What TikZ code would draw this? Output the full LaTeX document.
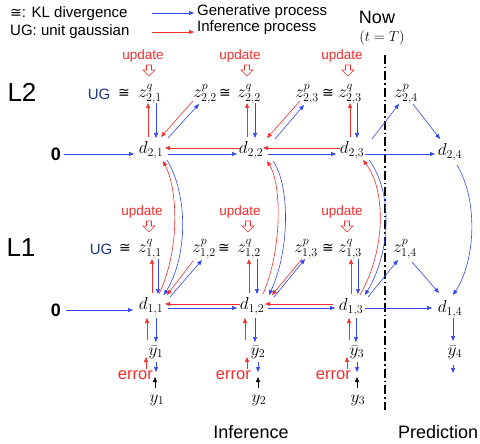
\documentclass[tikz,border=0pt]{standalone}
\usepackage{fontspec}
\setmainfont{Liberation Sans}
\newfontfamily\dvfont{DejaVu Sans}
\usetikzlibrary{arrows.meta,calc}
\definecolor{bl}{RGB}{50,70,245}
\definecolor{rd}{RGB}{245,45,45}
\definecolor{navy}{RGB}{30,55,125}
\tikzset{
  hollow/.pic={\draw[rd, line width=0.6pt, fill=white] (-2.5,0) -- (2.5,0) -- (2.5,5) -- (6,5) -- (0,11) -- (-6,5) -- (-2.5,5) -- cycle;},
  ba/.style={draw=bl, line width=0.6pt, -{Triangle[length=5pt,width=4pt]}},
  ra/.style={draw=rd, line width=0.6pt, -{Triangle[length=5pt,width=4pt]}},
  ka/.style={draw=black, line width=0.6pt, -{Triangle[length=5pt,width=4pt]}},
  mth/.style={inner sep=0pt, font=\fontsize{18}{21}\selectfont},
  lbl/.style={inner sep=0pt, font=\fontsize{15}{18}\selectfont},
  upd/.style={inner sep=0pt, text=rd, font=\fontsize{13.5}{16}\selectfont},
  err/.style={inner sep=0pt, text=rd, font=\fontsize{16.5}{19}\selectfont, anchor=east},
  big/.style={inner sep=0pt, font=\fontsize{26}{30}\selectfont},
  zero/.style={inner sep=0pt, font=\bfseries\fontsize{18}{20}\selectfont},
  cg/.style={inner sep=0pt, font=\fontsize{15}{18}\selectfont},
  cgs/.style={inner sep=0pt, font=\dvfont\fontsize{14}{16}\selectfont},
  dashdot/.style={line width=1.8pt, dash pattern=on 9pt off 3pt on 1.5pt off 3pt}
}
\begin{document}
\begin{tikzpicture}[x=1pt,y=-1pt]
\useasboundingbox (0,0) rectangle (480,444);
% legend
\node[lbl, anchor=west] (kl) at (10,14) {{\dvfont\fontsize{14}{16}\selectfont ≅}: KL divergence};
\node[lbl, anchor=west] (ugl) at (10,32) {UG: unit gaussian};
\node[lbl, anchor=west] (gen) at (197,12) {Generative process};
\node[lbl, anchor=west] (inf) at (197,28) {Inference process};
\coordinate (g0) at (152,13);
\coordinate (r0) at (152,32);
\draw[ba] (g0) -- ($(gen.west)+(-3,1)$);
\draw[ra] (r0) -- ($(inf.west)+(-3,4)$);
\node[inner sep=0pt, font=\fontsize{18}{22}\selectfont] (now) at (377,17) {Now};
\node[inner sep=0pt, font=\fontsize{14}{16}\selectfont] (tT) at (382,38) {$(t=T)$};
\coordinate (vt) at (385,55);
\coordinate (vb) at (385,410);
\draw[dashdot] (vt) -- (vb);
% layer labels
\node[big] (L2) at (22,92) {L2};
\node[big] (L1) at (21,248) {L1};
\node[zero] (z2) at (56,154) {0};
\node[zero] (z1) at (56,310) {0};
% L2 top
\node[cg, text=navy] (ug2) at (99,94) {UG};
\node[cgs] (c21) at (124,93) {≅};
\node[mth] (zq21) at (150,94) {$z^{q}_{2,1}$};
\node[mth] (zp22) at (205,94) {$z^{p}_{2,2}$};
\node[cgs] (c22) at (225,93) {≅};
\node[mth] (zq22) at (249,94) {$z^{q}_{2,2}$};
\node[mth] (zp23) at (307,94) {$z^{p}_{2,3}$};
\node[cgs] (c23) at (328,93) {≅};
\node[mth] (zq23) at (350,94) {$z^{q}_{2,3}$};
\node[mth] (zp24) at (406,94) {$z^{p}_{2,4}$};
\node[upd] (u21) at (143,56) {update};
\node[upd] (u22) at (240,56) {update};
\node[upd] (u23) at (342,56) {update};
\pic at (149,65) {hollow};
\pic at (247,65) {hollow};
\pic at (348,65) {hollow};
\node[mth] (d21) at (151,150) {$d_{2,1}$};
\node[mth] (d22) at (251,150) {$d_{2,2}$};
\node[mth] (d23) at (352,150) {$d_{2,3}$};
\node[mth] (d24) at (450,152) {$d_{2,4}$};
% L1
\node[cg, text=navy] (ug1) at (101,249) {UG};
\node[cgs] (c11) at (125,248) {≅};
\node[mth] (zq11) at (150,249) {$z^{q}_{1,1}$};
\node[mth] (zp12) at (204,249) {$z^{p}_{1,2}$};
\node[cgs] (c12) at (224,248) {≅};
\node[mth] (zq12) at (249,249) {$z^{q}_{1,2}$};
\node[mth] (zp13) at (306,249) {$z^{p}_{1,3}$};
\node[cgs] (c13) at (328,248) {≅};
\node[mth] (zq13) at (350,249) {$z^{q}_{1,3}$};
\node[mth] (zp14) at (405,249) {$z^{p}_{1,4}$};
\node[upd] (u11) at (142,212) {update};
\node[upd] (u12) at (240,212) {update};
\node[upd] (u13) at (342,212) {update};
\pic at (149,221) {hollow};
\pic at (248,221) {hollow};
\pic at (347,221) {hollow};
\node[mth] (d11) at (151,306) {$d_{1,1}$};
\node[mth] (d12) at (252,306) {$d_{1,2}$};
\node[mth] (d13) at (351,307) {$d_{1,3}$};
\node[mth] (d14) at (450,309) {$d_{1,4}$};
% outputs
\node[mth] (yb1) at (156,352) {$\bar{y}_1$};
\node[mth] (yb2) at (258,352) {$\bar{y}_2$};
\node[mth] (yb3) at (357,352) {$\bar{y}_3$};
\node[mth] (yb4) at (455,352) {$\bar{y}_4$};
\node[err] (e1) at (153,375) {error};
\node[err] (e2) at (251,375) {error};
\node[err] (e3) at (351,375) {error};
\node[mth] (y1) at (157,400) {$y_1$};
\node[mth] (y2) at (259,400) {$y_2$};
\node[mth] (y3) at (358,400) {$y_3$};
\node[inner sep=0pt, font=\fontsize{18}{22}\selectfont] (infr) at (251,432) {Inference};
\node[inner sep=0pt, anchor=west, font=\fontsize{18}{22}\selectfont] (pred) at (398,432) {Prediction};
% L2 verticals
\draw[ra] ($(d21)+(-3,-13)$) -- ($(zq21)+(-2,9)$);
\draw[ba] ($(zq21)+(6,9)$) -- ($(d21)+(5,-12)$);
\draw[ra] ($(d22)+(-4,-13)$) -- ($(zq22)+(-2,9)$);
\draw[ba] ($(zq22)+(6,9)$) -- ($(d22)+(4,-12)$);
\draw[ra] ($(d23)+(-2,-13)$) -- ($(zq23)+(0,9)$);
\draw[ba] ($(zq23)+(7,9)$) -- ($(d23)+(5,-12)$);
% L2 diagonals
\draw[ra] ($(zp22)+(-12,7)$) -- ($(d21)+(10,-13)$);
\draw[ba] ($(d21)+(17,-12)$) -- ($(zp22)+(-6,10)$);
\draw[ra] ($(zp23)+(-7,7)$) -- ($(d22)+(16,-12)$);
\draw[ba] ($(d22)+(24,-11)$) -- ($(zp23)+(-3,11)$);
\draw[ba] ($(d23)+(20,-11)$) -- ($(zp24)+(-7,10)$);
\draw[ba] ($(zp24)+(7,10)$) -- ($(d24)+(-10,-13)$);
% L2 row
\draw[ba] ($(z2)+(8,0)$) -- ($(d21)+(-17,4)$);
\draw[ba] ($(d21)+(17,4)$) -- ($(d22)+(-14,4)$);
\draw[ra] ($(d22)+(-11,-2)$) -- ($(d21)+(14,-2)$);
\draw[ba] ($(d22)+(17,4)$) -- ($(d23)+(-16,4)$);
\draw[ra] ($(d23)+(-12,-2)$) -- ($(d22)+(12,-2)$);
\draw[ba] ($(d23)+(13,4)$) -- ($(d24)+(-15,2)$);
% cross-layer curves
\draw[ra] ($(d11)+(8,-12)$) .. controls (180,250) and (178,190) .. ($(d21)+(12,11)$);
\draw[ba] ($(d21)+(16,10)$) .. controls (188,195) and (188,255) .. ($(d11)+(13,-11)$);
\draw[ra] ($(d12)+(11,-12)$) .. controls (282,250) and (282,185) .. ($(d22)+(16,11)$);
\draw[ba] ($(d22)+(22,11)$) .. controls (290,185) and (290,250) .. ($(d12)+(17,-11)$);
\draw[ra] ($(d13)+(9,-12)$) .. controls (386,250) and (386,190) .. ($(d23)+(11,10)$);
\draw[ba] ($(d23)+(17,10)$) .. controls (392,190) and (392,250) .. ($(d13)+(14,-12)$);
\draw[ba] ($(d24)+(7,13)$) .. controls (478,200) and (476,260) .. ($(d14)+(3,-14)$);
% L1 verticals
\draw[ra] ($(d11)+(1,-13)$) -- ($(zq11)+(2,10)$);
\draw[ba] ($(zq11)+(8,10)$) -- ($(d11)+(7,-12)$);
\draw[ra] ($(d12)+(-3,-13)$) -- ($(zq12)+(0,10)$);
\draw[ba] ($(zq12)+(8,10)$) -- ($(d12)+(5,-12)$);
\draw[ra] ($(d13)+(0,-13)$) -- ($(zq13)+(1,10)$);
\draw[ba] ($(zq13)+(8,10)$) -- ($(d13)+(7,-13)$);
% L1 diagonals
\draw[ra] ($(zp12)+(-11,12)$) -- ($(d11)+(16,-11)$);
\draw[ba] ($(d11)+(19,-9)$) -- ($(zp12)+(-2,11)$);
\draw[ra] ($(zp13)+(-4,10)$) -- ($(d12)+(20,-11)$);
\draw[ba] ($(d12)+(22,-9)$) -- ($(zp13)+(-1,10)$);
\draw[ba] ($(d13)+(17,-10)$) -- ($(zp14)+(-7,11)$);
\draw[ba] ($(zp14)+(7,13)$) -- ($(d14)+(-11,-16)$);
% L1 row
\draw[ba] ($(z1)+(10,0)$) -- ($(d11)+(-18,4)$);
\draw[ba] ($(d11)+(17,2)$) -- ($(d12)+(-15,2)$);
\draw[ra] ($(d12)+(-12,-2)$) -- ($(d11)+(14,-2)$);
\draw[ba] ($(d12)+(16,2)$) -- ($(d13)+(-16,1)$);
\draw[ra] ($(d13)+(-18,-3)$) -- ($(d12)+(13,-2)$);
\draw[ba] ($(d13)+(14,1)$) -- ($(d14)+(-18,-1)$);
% outputs col1
\draw[ra] ($(yb1)+(-9,-12)$) -- ($(d11)+(-4,12)$);
\draw[ba] ($(d11)+(5,12)$) -- ($(yb1)+(0,-10)$);
\draw[ra] ($(e1.east)+(-7,-6)$) -- ($(yb1)+(-10,5)$);
\draw[ba] ($(yb1)+(0,10)$) -- ($(y1)+(-1,-28)$);
\draw[ka] ($(y1)+(-2,-12)$) -- ($(y1)+(-2,-23)$);
% col2
\draw[ra] ($(yb2)+(-13,-12)$) -- ($(d12)+(-7,12)$);
\draw[ba] ($(d12)+(3,12)$) -- ($(yb2)+(-3,-10)$);
\draw[ra] ($(e2.east)+(-4,-6)$) -- ($(yb2)+(-11,5)$);
\draw[ba] ($(yb2)+(0,10)$) -- ($(y2)+(-1,-28)$);
\draw[ka] ($(y2)+(-1,-12)$) -- ($(y2)+(-1,-23)$);
% col3
\draw[ra] ($(yb3)+(-8,-12)$) -- ($(d13)+(-2,11)$);
\draw[ba] ($(d13)+(5,11)$) -- ($(yb3)+(-1,-10)$);
\draw[ra] ($(e3.east)+(-4,-6)$) -- ($(yb3)+(-10,5)$);
\draw[ba] ($(yb3)+(0,10)$) -- ($(y3)+(-1,-28)$);
\draw[ka] ($(y3)+(-1,-12)$) -- ($(y3)+(-1,-23)$);
% col4
\draw[ba] ($(d14)+(3,9)$) -- ($(yb4)+(-2,-11)$);
\draw[ba] ($(yb4)+(-2,13)$) -- ($(yb4)+(-2,21)$);
\end{tikzpicture}
\end{document}
